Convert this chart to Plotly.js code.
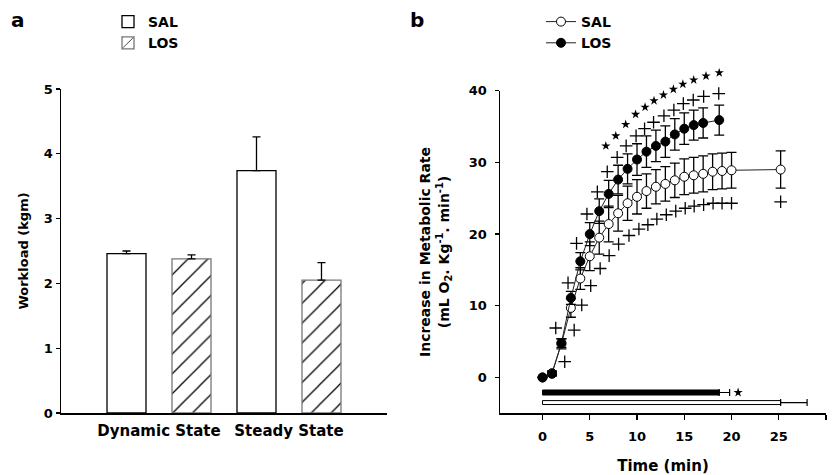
<!DOCTYPE html>
<html>
<head>
<meta charset="utf-8">
<script src="https://cdn.plot.ly/plotly-3.0.1.min.js"></script>
<style>html,body{margin:0;padding:0;background:#fff;}#chart{width:833px;height:475px;}</style>
</head>
<body>
<div id="chart"></div>
<script>
// ---------- Panel a data ----------
const categories = ['Dynamic State', 'Steady State'];
const salWorkload = [2.46, 3.74];
const salWorkloadErr = [0.04, 0.52];
const losWorkload = [2.38, 2.05];
const losWorkloadErr = [0.06, 0.27];

// ---------- Panel b data ----------
const losTime = [0, 1, 2, 3, 4, 5, 6, 7, 8, 9, 10, 11, 12, 13, 14, 15, 16, 17, 18.7];
const losRate = [0, 0.5, 4.8, 11.1, 16.2, 20.0, 23.2, 25.6, 27.6, 29.1, 30.4, 31.5, 32.3, 32.9, 33.9, 34.7, 35.2, 35.5, 35.9];
const losRateErr = [0, 0.3, 0.6, 0.9, 1.2, 1.6, 1.7, 1.9, 2.0, 2.1, 2.2, 2.2, 2.2, 2.2, 2.2, 2.2, 2.1, 2.1, 2.1];

const salTime = [0, 1, 2, 3, 4, 5, 6, 7, 8, 9, 10, 11, 12, 13, 14, 15, 16, 17, 18, 19, 20, 25.2];
const salRate = [0, 0.6, 4.7, 9.7, 13.8, 16.9, 19.5, 21.4, 22.9, 24.3, 25.2, 26.0, 26.6, 27.0, 27.5, 28.0, 28.2, 28.4, 28.7, 28.8, 28.9, 29.0];
const salRateErr = [0, 0.3, 0.7, 1.3, 1.5, 2.0, 2.3, 2.5, 2.5, 2.4, 2.4, 2.4, 2.4, 2.4, 2.4, 2.5, 2.5, 2.5, 2.5, 2.5, 2.5, 2.6];

// significance marks (+ near LOS, + near SAL, * between groups)
const plusLosTime = [1.4, 2.7, 3.6, 4.7, 5.8, 6.85, 7.9, 8.85, 9.9, 10.8, 11.75, 12.85, 13.9, 14.9, 15.95, 17.05, 18.65];
const plusLosRate = [6.9, 13.2, 18.7, 22.8, 25.9, 28.7, 30.7, 32.3, 33.7, 34.7, 35.6, 36.5, 37.3, 38.2, 38.7, 39.2, 39.6];
const plusSalTime = [2.35, 3.35, 4.15, 5.1, 6.1, 7.05, 8.05, 9.15, 10.2, 11.15, 12.1, 13.1, 14.1, 15.1, 16.05, 17.05, 18.05, 19.0, 20.0, 25.2];
const plusSalRate = [2.2, 6.6, 10.1, 12.8, 15.2, 17.0, 18.6, 19.8, 20.7, 21.3, 22.1, 22.7, 23.2, 23.6, 23.9, 24.1, 24.3, 24.3, 24.3, 24.5];
const starTime = [6.7, 7.75, 8.8, 9.85, 10.85, 11.8, 12.8, 13.85, 14.85, 16.0, 17.3, 18.7];
const starRate = [32.3, 33.7, 35.3, 36.7, 37.7, 38.6, 39.4, 40.2, 40.9, 41.5, 42.05, 42.5];

// time to exhaustion bars (LOS, SAL)
const exhaustLevel = [-2.1, -3.5];
const exhaustTime = [18.7, 25.2];
const exhaustErr = [1.1, 2.8];
const exhaustStarTime = [20.7];
const exhaustStarLevel = [-2.1];

const FONT = 'DejaVu Sans, Verdana, sans-serif';
const bold = (s) => ({family: FONT, size: s, color: '#000', weight: 'bold'});

const plusMarker = {symbol: 'cross-thin', size: 9, line: {color: '#000', width: 1.3}};
const starMarker = {symbol: 'star', size: 7, color: '#000', line: {width: 0}};

const traces = [
  // Panel a
  {
    type: 'bar', name: 'SAL', x: categories, y: salWorkload,
    xaxis: 'x', yaxis: 'y', legend: 'legend',
    marker: {color: '#fff', line: {color: '#000', width: 1.3}},
    error_y: {type: 'data', symmetric: false, array: salWorkloadErr, arrayminus: [0, 0], color: '#000', thickness: 1.3, width: 4},
    hoverinfo: 'skip'
  },
  {
    type: 'bar', name: 'LOS', x: categories, y: losWorkload,
    xaxis: 'x', yaxis: 'y', legend: 'legend',
    marker: {color: '#fff', line: {color: '#777', width: 1.3},
             pattern: {shape: '/', size: 14, solidity: 0.09, fgcolor: '#000', bgcolor: '#fff', fillmode: 'replace'}},
    error_y: {type: 'data', symmetric: false, array: losWorkloadErr, arrayminus: [0, 0], color: '#000', thickness: 1.3, width: 4},
    hoverinfo: 'skip'
  },
  // Panel b
  {
    type: 'bar', orientation: 'h', x: exhaustTime, y: exhaustLevel, base: 0,
    width: [0.7, 0.55], xaxis: 'x2', yaxis: 'y2', showlegend: false,
    marker: {color: ['#000', '#fff'], line: {color: '#000', width: 1}},
    error_x: {type: 'data', symmetric: false, array: exhaustErr, arrayminus: [0, 0], color: '#000', thickness: 1.2, width: 3.5},
    hoverinfo: 'skip'
  },
  {
    type: 'scatter', mode: 'lines+markers', name: 'SAL', x: salTime, y: salRate,
    xaxis: 'x2', yaxis: 'y2', legend: 'legend2',
    line: {color: '#222', width: 1},
    marker: {symbol: 'circle', size: 9, color: '#fff', line: {color: '#000', width: 1}},
    error_y: {type: 'data', array: salRateErr, color: '#000', thickness: 1.3, width: 5},
    hoverinfo: 'skip'
  },
  {
    type: 'scatter', mode: 'lines+markers', name: 'LOS', x: losTime, y: losRate,
    xaxis: 'x2', yaxis: 'y2', legend: 'legend2',
    line: {color: '#222', width: 1},
    marker: {symbol: 'circle', size: 9, color: '#000', line: {color: '#000', width: 1}},
    error_y: {type: 'data', array: losRateErr, color: '#000', thickness: 1.3, width: 5},
    hoverinfo: 'skip'
  },
  {
    type: 'scatter', mode: 'markers', x: plusLosTime, y: plusLosRate, xaxis: 'x2', yaxis: 'y3',
    showlegend: false, hoverinfo: 'skip', marker: plusMarker
  },
  {
    type: 'scatter', mode: 'markers', x: plusSalTime, y: plusSalRate, xaxis: 'x2', yaxis: 'y3',
    showlegend: false, hoverinfo: 'skip', marker: plusMarker
  },
  {
    type: 'scatter', mode: 'markers', x: starTime, y: starRate, xaxis: 'x2', yaxis: 'y3',
    showlegend: false, hoverinfo: 'skip', marker: starMarker
  },
  {
    type: 'scatter', mode: 'markers', x: exhaustStarTime, y: exhaustStarLevel, xaxis: 'x2', yaxis: 'y3',
    showlegend: false, hoverinfo: 'skip', marker: starMarker
  }
];

const W = 833, H = 475;
const px = (x) => x / W;
const py = (y) => 1 - y / H;
// panel b vertical scale: y=40 at 90.7px, y=-5 at 413.3px
const bTop = 90.7, bBot = 413.3;
const bScale = (bBot - bTop) / 45;

const layout = {
  width: W, height: H,
  margin: {l: 0, r: 0, t: 0, b: 0},
  paper_bgcolor: '#fff', plot_bgcolor: 'rgba(0,0,0,0)',
  font: bold(14),
  barmode: 'group', bargap: 0, bargroupgap: 0.4,
  showlegend: true,
  xaxis: {
    domain: [px(61), px(387)], anchor: 'y', type: 'category',
    range: [-0.754, 1.754], showline: true, linecolor: '#000', linewidth: 1.5,
    ticks: '', showgrid: false, zeroline: false, tickfont: bold(15), ticklabelstandoff: 3,
    fixedrange: true
  },
  yaxis: {
    domain: [py(413), py(89)], anchor: 'x', range: [0, 5], dtick: 1,
    showline: true, linecolor: '#000', linewidth: 1.5,
    ticks: 'outside', ticklen: 4, tickwidth: 1.3, tickcolor: '#000',
    showgrid: false, zeroline: false, tickfont: bold(13),
    title: {text: 'Workload (kgm)', font: bold(13), standoff: 12},
    fixedrange: true
  },
  xaxis2: {
    domain: [px(500), px(826)], anchor: 'y2', range: [-4.5, 30],
    tickvals: [0, 5, 10, 15, 20, 25, 30],
    showline: true, linecolor: '#000', linewidth: 1.5,
    ticks: 'outside', ticklen: 5, tickwidth: 1.3, tickcolor: '#000',
    showgrid: false, zeroline: false, tickfont: bold(13), ticklabelstandoff: 6,
    title: {text: 'Time (min)', font: bold(15), standoff: 18},
    fixedrange: true
  },
  yaxis2: {
    domain: [py(bBot), py(bTop)], anchor: 'x2', range: [-5, 40],
    tickvals: [0, 10, 20, 30, 40],
    showline: true, linecolor: '#000', linewidth: 1.5,
    ticks: 'outside', ticklen: 4, tickwidth: 1.3, tickcolor: '#000',
    showgrid: false, zeroline: false, tickfont: bold(13), ticklabelstandoff: 5,
    title: {text: 'Increase in Metabolic Rate<br>(mL O<sub>2</sub>. Kg<sup>-1</sup>. min<sup>-1</sup>)', font: bold(14), standoff: 16},
    fixedrange: true
  },
  // invisible companion axis with same scale, taller, so marks above 40 stay visible
  yaxis3: {
    domain: [py(bBot), py(bTop - 6 * bScale)], anchor: 'x2', range: [-5, 46],
    visible: false, showgrid: false, zeroline: false, fixedrange: true
  },
  legend: {
    x: px(108), y: py(6), xanchor: 'left', yanchor: 'top',
    bgcolor: 'rgba(0,0,0,0)', font: bold(14), traceorder: 'normal', tracegroupgap: 0
  },
  legend2: {
    x: px(541), y: py(6), xanchor: 'left', yanchor: 'top',
    bgcolor: 'rgba(0,0,0,0)', font: bold(14), traceorder: 'normal', tracegroupgap: 0
  },
  annotations: [
    {text: 'a', xref: 'paper', yref: 'paper', x: px(18), y: py(20), xanchor: 'center', yanchor: 'middle', showarrow: false, font: bold(20)},
    {text: 'b', xref: 'paper', yref: 'paper', x: px(417), y: py(20), xanchor: 'center', yanchor: 'middle', showarrow: false, font: bold(20)}
  ]
};

Plotly.newPlot('chart', traces, layout, {displayModeBar: false, staticPlot: true});
</script>
</body>
</html>
